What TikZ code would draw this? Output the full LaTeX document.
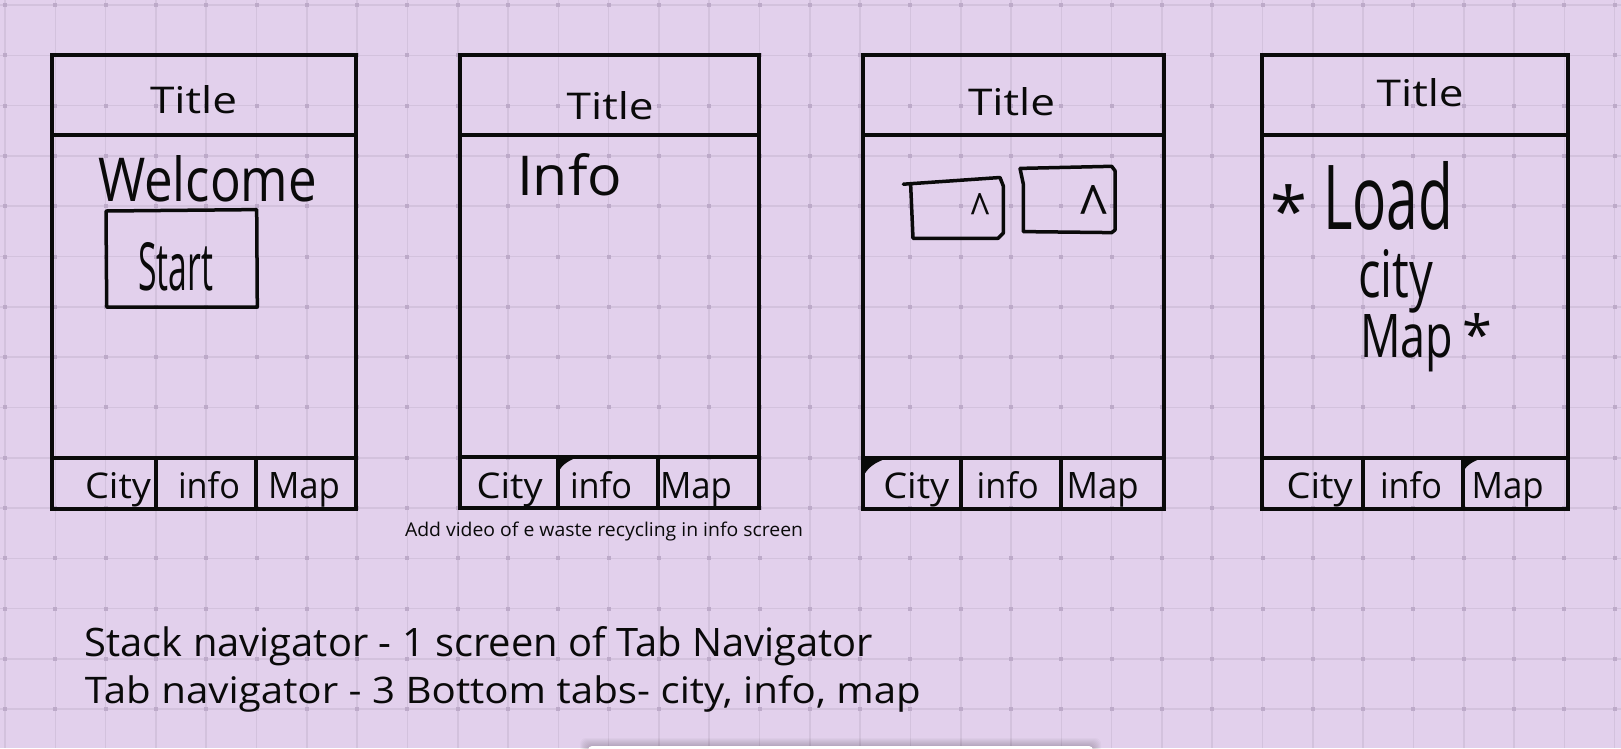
\documentclass[tikz,border=0pt]{standalone}
\usepackage{fontspec}
\setmainfont{Open Sans}
\usepackage{graphicx}
\definecolor{bg}{HTML}{E2D0EC}
\definecolor{gridc}{HTML}{D3C2DD}
\definecolor{dotc}{HTML}{BDAAC9}
\definecolor{ink}{HTML}{0A0A0A}
\newcommand{\fitxt}[3]{\resizebox{#1pt}{#2pt}{#3}}
\newcommand{\phoneframe}[8]{%
  \draw[frameline] (#1,#3) rectangle (#2,#6);
  \draw[frameline] (#1,#4) -- (#2,#4);
  \draw[frameline] (#1,#5) -- (#2,#5);
  \draw[frameline] (#7,#5) -- (#7,#6);
  \draw[frameline] (#8,#5) -- (#8,#6);}
\begin{document}
\begin{tikzpicture}[x=1pt,y=-1pt,
  gridline/.style={draw=gridc,line width=1.6pt},
  frameline/.style={draw=ink,line width=4pt},
  boxline/.style={draw=ink,line width=3.5pt,line join=round,line cap=round},
  lbl/.style={inner sep=0pt,outer sep=0pt,anchor=base west,text=ink},
  hand/.style={lbl},
  tabmark/.style={fill=ink}]
\useasboundingbox (0,0) rectangle (1621,748);
\fill[bg] (0,0) rectangle (1621,748);
\clip (0,0) rectangle (1621,748);
% grid
\foreach \i in {0,...,32} {\draw[gridline] ({5+50.3*\i},0) -- ({5+50.3*\i},748);}
\foreach \j in {0,...,14} {\draw[gridline] (0,{5+50.3*\j}) -- (1621,{5+50.3*\j});}
\foreach \i in {0,...,32} {\foreach \j in {0,...,14} {\fill[dotc] ({5+50.3*\i-2},{5+50.3*\j-2}) rectangle ++(4,4);}}
% bottom white panel with shadow
\foreach \k in {1,...,8} {\fill[black,opacity=0.025,rounded corners=6pt] ({588-\k},{746-\k}) rectangle ({1093+\k},770);}
\fill[white,rounded corners=4pt] (588,746) rectangle (1093,770);
% frames
\phoneframe{51.7}{356}{54.5}{134.5}{458}{508.5}{156}{256}
\phoneframe{459.5}{759}{54.6}{134.6}{457}{508}{557.5}{657.5}
\phoneframe{863}{1164}{54.5}{134.5}{458}{508.5}{960.7}{1060.7}
\phoneframe{1261.7}{1568.3}{54.5}{134.5}{458}{508.5}{1363.3}{1463.3}
% active tab markers
\fill[tabmark] (557.5,457) -- (578,457) .. controls (567,461) and (560,466) .. (557.5,475) -- cycle;
\fill[tabmark] (863,458) -- (888,458) .. controls (875,462) and (867,468) .. (863,477) -- cycle;
\fill[tabmark] (1463.3,458) -- (1483,458) .. controls (1473,461) and (1467,465) .. (1463.3,471) -- cycle;
% titles
\node[lbl] (title1) at (150,113) {\fitxt{87}{28}{Title}};
\node[lbl] (title2) at (566.7,119.6) {\fitxt{87}{28}{Title}};
\node[lbl] (title3) at (968,115) {\fitxt{87}{28}{Title}};
\node[lbl] (title4) at (1376.7,106.5) {\fitxt{87}{28}{Title}};
% tab labels
\node[lbl] (city1) at (85,498.6) {\fitxt{66}{26}{City}};
\node[lbl] (info1) at (178,498.6) {\fitxt{62}{27}{info}};
\node[lbl] (map1) at (268,498.6) {\fitxt{72}{26}{Map}};
\node[lbl] (city2) at (476.7,498) {\fitxt{66}{26}{City}};
\node[lbl] (info2) at (570,498) {\fitxt{62}{27}{info}};
\node[lbl] (map2) at (660,498) {\fitxt{72}{26}{Map}};
\node[lbl] (city3) at (883.3,498.6) {\fitxt{66}{26}{City}};
\node[lbl] (info3) at (976.7,498.6) {\fitxt{62}{27}{info}};
\node[lbl] (map3) at (1066.7,498.6) {\fitxt{72}{26}{Map}};
\node[lbl] (city4) at (1286.7,498.6) {\fitxt{66}{26}{City}};
\node[lbl] (info4) at (1380,498.6) {\fitxt{62}{27}{info}};
\node[lbl] (map4) at (1471.7,498.6) {\fitxt{72}{26}{Map}};
% screen 1
\node[hand] (welcome) at (98,201) {\fitxt{219}{46}{Welcome}};
\draw[boxline] (106,211) -- (256.7,209.6) -- (257.3,307) -- (106.7,307) -- cycle;
\node[hand] (start) at (138,290) {\fitxt{75}{48}{Start}};
% screen 2
\node[hand] (info) at (517,195) {\fitxt{105}{42}{Info}};
% screen 3
\draw[boxline] (903.3,184.2) -- (1000,177.5) -- (1003.3,186) -- (1003.3,233) -- (998,238.3) -- (913,238.3) -- (910.7,186);
\draw[boxline] (1020,168.4) -- (1023.3,184) -- (1023.3,231.6) -- (1111.7,232.6) -- (1115,230) -- (1115,170.7) -- (1111.7,166.3) -- (1020,168.4);
\node[hand] (caretA) at (970,227) {\fitxt{20}{34}{\textasciicircum}};
\node[hand] (caretB) at (1079,231) {\fitxt{29}{46}{\textasciicircum}};
% screen 4
\node[lbl] (starA) at (1270,235) {\fontsize{67}{67}\selectfont *};
\node[hand] (load) at (1323,229) {\fitxt{130}{68}{Load}};
\node[hand] (citytxt) at (1358,297) {\fitxt{75}{48}{city}};
\node[hand] (maptxt) at (1360,357) {\fitxt{93}{43}{Map}};
\node[lbl] (starB) at (1462,354) {\fontsize{54}{54}\selectfont *};
% notes
\node[lbl] (note) at (405,536.7) {\fitxt{398}{14.5}{Add video of e waste recycling in info screen}};
\node[lbl] (line1) at (84.8,656) {\fitxt{788}{30}{Stack navigator - 1 screen of Tab Navigator}};
\node[lbl] (line2) at (84.8,703) {\fitxt{836}{28}{Tab navigator - 3 Bottom tabs- city, info, map}};
\end{tikzpicture}
\end{document}
